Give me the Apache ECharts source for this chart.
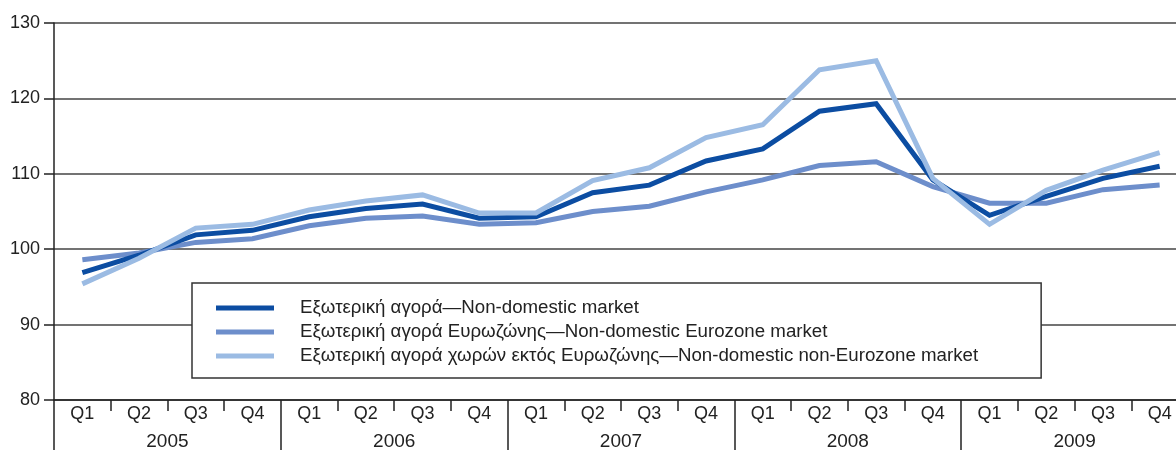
<!DOCTYPE html>
<html>
<head>
<meta charset="utf-8">
<script src="https://cdn.jsdelivr.net/npm/echarts@6/dist/echarts.min.js"></script>
<style>
  html, body { margin: 0; padding: 0; background: #fff; }
  #chart { width: 1176px; height: 450px; }
</style>
</head>
<body>
<div id="chart"></div>
<script>
const quarters = ['Q1', 'Q2', 'Q3', 'Q4', 'Q1', 'Q2', 'Q3', 'Q4', 'Q1', 'Q2', 'Q3', 'Q4',
    'Q1', 'Q2', 'Q3', 'Q4', 'Q1', 'Q2', 'Q3', 'Q4'];
const years = ['2005', '2006', '2007', '2008', '2009'];

const nameTotal = 'Εξωτερική αγορά—Non-domestic market';
const nameEuro = 'Εξωτερική αγορά Ευρωζώνης—Non-domestic Eurozone market';
const nameNonEuro = 'Εξωτερική αγορά χωρών εκτός Ευρωζώνης—Non-domestic non-Eurozone market';

const totalMarket = [96.9, 99.2, 101.9, 102.5, 104.3, 105.4, 106.0, 104.1, 104.3, 107.5,
    108.5, 111.7, 113.3, 118.3, 119.3, 109.2, 104.5, 107.0, 109.4, 111.0];
const euroMarket = [98.6, 99.5, 100.9, 101.4, 103.1, 104.1, 104.4, 103.3, 103.5, 105.0,
    105.7, 107.6, 109.2, 111.1, 111.6, 108.3, 106.1, 106.1, 107.9, 108.5];
const nonEuroMarket = [95.4, 98.8, 102.8, 103.3, 105.2, 106.4, 107.2, 104.8, 104.8, 109.1,
    110.8, 114.8, 116.5, 123.8, 125.0, 109.4, 103.3, 107.8, 110.5, 112.8];

const chart = echarts.init(document.getElementById('chart'));
const font = 'Liberation Sans, Arial, sans-serif';
const ink = '#222';

function line(name, data, color, z) {
    return {
        name: name,
        type: 'line',
        data: data,
        z: z,
        symbol: 'none',
        lineStyle: { color: color, width: 5, cap: 'butt', join: 'miter' },
        itemStyle: { color: color },
        emphasis: { disabled: true }
    };
}

chart.setOption({
    animation: false,
    backgroundColor: '#fff',
    grid: {
        left: 54, right: -12, top: 23, bottom: 50,
        containLabel: false,
        outerBoundsMode: 'none'
    },
    legend: {
        orient: 'vertical',
        left: 192,
        top: 283,
        padding: [15, 63, 12, 24],
        itemGap: 4,
        itemWidth: 58,
        itemHeight: 5,
        icon: 'rect',
        backgroundColor: '#fff',
        borderColor: '#333',
        borderWidth: 1.5,
        borderRadius: 0,
        selectedMode: false,
        data: [nameTotal, nameEuro, nameNonEuro],
        textStyle: {
            fontFamily: font,
            fontSize: 18.7,
            color: ink,
            lineHeight: 20,
            padding: [0, 0, 0, 21]
        }
    },
    xAxis: [{
        type: 'category',
        data: quarters,
        boundaryGap: true,
        position: 'bottom',
        axisLine: { show: true, lineStyle: { color: '#222', width: 1.5 } },
        axisTick: { show: true, interval: 0, length: 11, lineStyle: { color: '#222', width: 1.5 } },
        axisLabel: { interval: 0, margin: 5, fontFamily: font, fontSize: 18, color: ink },
        splitLine: { show: false }
    }, {
        type: 'category',
        data: years,
        boundaryGap: true,
        position: 'bottom',
        axisLine: { show: false },
        axisTick: { show: true, interval: 0, length: 50, lineStyle: { color: '#222', width: 1.5 } },
        axisLabel: { interval: 0, margin: 32, fontFamily: font, fontSize: 19, color: ink },
        splitLine: { show: false }
    }],
    yAxis: {
        type: 'value',
        min: 80,
        max: 130,
        interval: 10,
        axisLine: { show: true, lineStyle: { color: '#222', width: 1.5 } },
        axisTick: { show: true, length: 10, lineStyle: { color: '#222', width: 1.5 } },
        axisLabel: { margin: 14, fontFamily: font, fontSize: 18, color: ink },
        splitLine: { show: true, lineStyle: { color: '#444', width: 1.5 } }
    },
    series: [
        line(nameEuro, euroMarket, '#6d8ecb', 2),
        line(nameTotal, totalMarket, '#0c4da2', 3),
        line(nameNonEuro, nonEuroMarket, '#9bbbe3', 4)
    ]
});
</script>
</body>
</html>
